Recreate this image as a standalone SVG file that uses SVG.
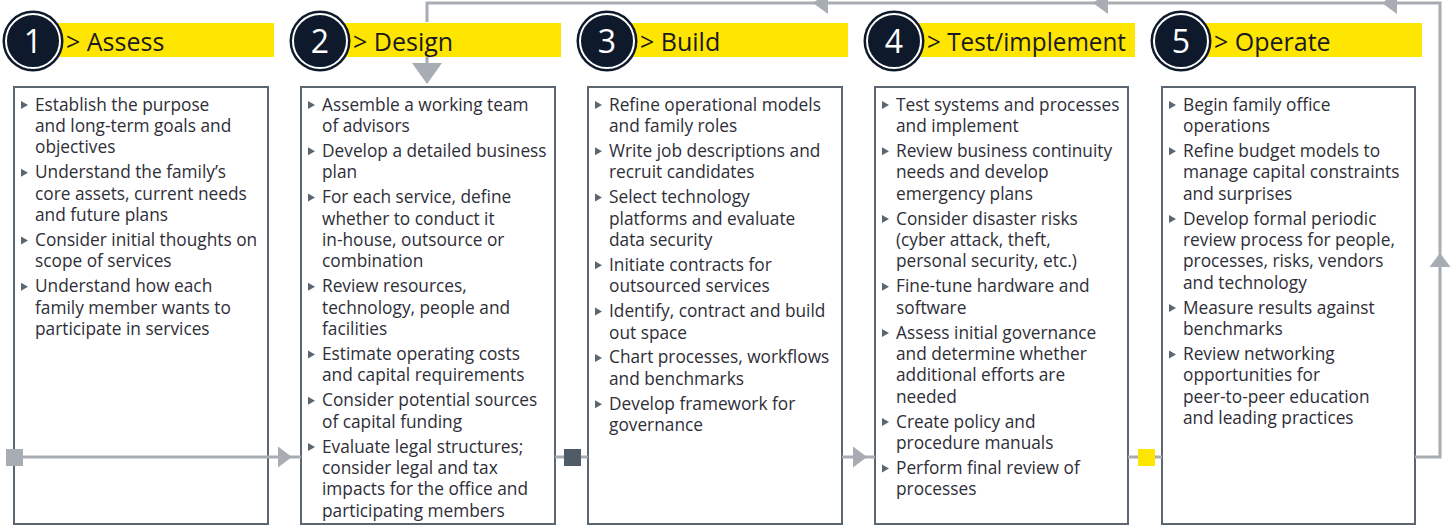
<svg xmlns="http://www.w3.org/2000/svg" xmlns:xlink="http://www.w3.org/1999/xlink" width="1452" height="529" viewBox="0 0 1452 529">
<style>
.box{fill:#fff;stroke:#5b6670;stroke-width:2}
.bar{fill:#ffe600}
.cO{fill:#0e1a2b}
.cR{fill:none;stroke:#fff;stroke-width:2}
.num{font-family:"Open Sans","Liberation Sans",sans-serif;font-size:32px;fill:#fff;text-anchor:middle}
.hd{font-family:"Open Sans","Liberation Sans",sans-serif;font-size:25px;fill:#1a1a24}
.tx{font-family:"Open Sans","Liberation Sans",sans-serif;font-size:17.3px;fill:#2e2e38}
.bl{fill:#5b6670}
.ln{fill:none;stroke:#a7adb2;stroke-width:3}
.ah{fill:#a7adb2}
</style>
<defs>
<path id="b" d="M0,-4 L7,0 L0,4Z"/>
</defs>
<rect width="1452" height="529" fill="#fff"/>

<g id="node1">
<rect class="box" x="14" y="87" width="254" height="437"/>
<rect class="bar" x="48" y="23" width="226" height="34"/>
<circle class="cO" cx="33" cy="41" r="30.5"/>
<circle class="cR" cx="33" cy="41" r="27"/>
<text class="num" x="33" y="52.5">1</text>
<text class="hd" x="66" y="51">&gt; Assess</text>
<g class="bl">
<use href="#b" x="21" y="105"/><use href="#b" x="21" y="172.7"/><use href="#b" x="21" y="240.4"/><use href="#b" x="21" y="286.7"/>
</g>
<text class="tx">
<tspan x="35" y="110.5">Establish the purpose</tspan>
<tspan x="35" y="131.9">and long-term goals and</tspan>
<tspan x="35" y="153.3">objectives</tspan>
<tspan x="35" y="178.2">Understand the family’s</tspan>
<tspan x="35" y="199.6">core assets, current needs</tspan>
<tspan x="35" y="221">and future plans</tspan>
<tspan x="35" y="245.9">Consider initial thoughts on</tspan>
<tspan x="35" y="267.3">scope of services</tspan>
<tspan x="35" y="292.2">Understand how each</tspan>
<tspan x="35" y="313.6">family member wants to</tspan>
<tspan x="35" y="335">participate in services</tspan>
</text>
</g>

<g id="node2">
<rect class="box" x="301" y="87" width="254" height="437"/>
<rect class="bar" x="335" y="23" width="226" height="34"/>
<circle class="cO" cx="320" cy="41" r="30.5"/>
<circle class="cR" cx="320" cy="41" r="27"/>
<text class="num" x="320" y="52.5">2</text>
<text class="hd" x="353" y="51">&gt; Design</text>
<g class="bl">
<use href="#b" x="308" y="105"/><use href="#b" x="308" y="151.3"/><use href="#b" x="308" y="197.6"/><use href="#b" x="308" y="286.7"/><use href="#b" x="308" y="354.4"/><use href="#b" x="308" y="400.7"/><use href="#b" x="308" y="447"/>
</g>
<text class="tx">
<tspan x="322" y="110.5">Assemble a working team</tspan>
<tspan x="322" y="131.9">of advisors</tspan>
<tspan x="322" y="156.8">Develop a detailed business</tspan>
<tspan x="322" y="178.2">plan</tspan>
<tspan x="322" y="203.1">For each service, define</tspan>
<tspan x="322" y="224.5">whether to conduct it</tspan>
<tspan x="322" y="245.9">in-house, outsource or</tspan>
<tspan x="322" y="267.3">combination</tspan>
<tspan x="322" y="292.2">Review resources,</tspan>
<tspan x="322" y="313.6">technology, people and</tspan>
<tspan x="322" y="335">facilities</tspan>
<tspan x="322" y="359.9">Estimate operating costs</tspan>
<tspan x="322" y="381.3">and capital requirements</tspan>
<tspan x="322" y="406.2">Consider potential sources</tspan>
<tspan x="322" y="427.6">of capital funding</tspan>
<tspan x="322" y="452.5">Evaluate legal structures;</tspan>
<tspan x="322" y="473.9">consider legal and tax</tspan>
<tspan x="322" y="495.3">impacts for the office and</tspan>
<tspan x="322" y="516.7">participating members</tspan>
</text>
</g>

<g id="node3">
<rect class="box" x="588" y="87" width="254" height="437"/>
<rect class="bar" x="622" y="23" width="226" height="34"/>
<circle class="cO" cx="607" cy="41" r="30.5"/>
<circle class="cR" cx="607" cy="41" r="27"/>
<text class="num" x="607" y="52.5">3</text>
<text class="hd" x="640" y="51">&gt; Build</text>
<g class="bl">
<use href="#b" x="595" y="105"/><use href="#b" x="595" y="151.3"/><use href="#b" x="595" y="197.6"/><use href="#b" x="595" y="265.3"/><use href="#b" x="595" y="311.6"/><use href="#b" x="595" y="357.9"/><use href="#b" x="595" y="404.2"/>
</g>
<text class="tx">
<tspan x="609" y="110.5">Refine operational models</tspan>
<tspan x="609" y="131.9">and family roles</tspan>
<tspan x="609" y="156.8">Write job descriptions and</tspan>
<tspan x="609" y="178.2">recruit candidates</tspan>
<tspan x="609" y="203.1">Select technology</tspan>
<tspan x="609" y="224.5">platforms and evaluate</tspan>
<tspan x="609" y="245.9">data security</tspan>
<tspan x="609" y="270.8">Initiate contracts for</tspan>
<tspan x="609" y="292.2">outsourced services</tspan>
<tspan x="609" y="317.1">Identify, contract and build</tspan>
<tspan x="609" y="338.5">out space</tspan>
<tspan x="609" y="363.4">Chart processes, workflows</tspan>
<tspan x="609" y="384.8">and benchmarks</tspan>
<tspan x="609" y="409.7">Develop framework for</tspan>
<tspan x="609" y="431.1">governance</tspan>
</text>
</g>

<g id="node4">
<rect class="box" x="875" y="87" width="253" height="437"/>
<rect class="bar" x="909" y="23" width="226" height="34"/>
<circle class="cO" cx="894" cy="41" r="30.5"/>
<circle class="cR" cx="894" cy="41" r="27"/>
<text class="num" x="894" y="52.5">4</text>
<text class="hd" x="927" y="51" textLength="199" lengthAdjust="spacingAndGlyphs">&gt; Test/implement</text>
<g class="bl">
<use href="#b" x="882" y="105"/><use href="#b" x="882" y="151.3"/><use href="#b" x="882" y="219"/><use href="#b" x="882" y="286.7"/><use href="#b" x="882" y="333"/><use href="#b" x="882" y="422.1"/><use href="#b" x="882" y="468.4"/>
</g>
<text class="tx">
<tspan x="896" y="110.5">Test systems and processes</tspan>
<tspan x="896" y="131.9">and implement</tspan>
<tspan x="896" y="156.8">Review business continuity</tspan>
<tspan x="896" y="178.2">needs and develop</tspan>
<tspan x="896" y="199.6">emergency plans</tspan>
<tspan x="896" y="224.5">Consider disaster risks</tspan>
<tspan x="896" y="245.9">(cyber attack, theft,</tspan>
<tspan x="896" y="267.3">personal security, etc.)</tspan>
<tspan x="896" y="292.2">Fine-tune hardware and</tspan>
<tspan x="896" y="313.6">software</tspan>
<tspan x="896" y="338.5">Assess initial governance</tspan>
<tspan x="896" y="359.9">and determine whether</tspan>
<tspan x="896" y="381.3">additional efforts are</tspan>
<tspan x="896" y="402.7">needed</tspan>
<tspan x="896" y="427.6">Create policy and</tspan>
<tspan x="896" y="449">procedure manuals</tspan>
<tspan x="896" y="473.9">Perform final review of</tspan>
<tspan x="896" y="495.3">processes</tspan>
</text>
</g>

<g id="node5">
<rect class="box" x="1162" y="87" width="253" height="437"/>
<rect class="bar" x="1196" y="23" width="226" height="34"/>
<circle class="cO" cx="1181" cy="41" r="30.5"/>
<circle class="cR" cx="1181" cy="41" r="27"/>
<text class="num" x="1181" y="52.5">5</text>
<text class="hd" x="1214" y="51">&gt; Operate</text>
<g class="bl">
<use href="#b" x="1169" y="105"/><use href="#b" x="1169" y="151.3"/><use href="#b" x="1169" y="219"/><use href="#b" x="1169" y="308.1"/><use href="#b" x="1169" y="354.4"/>
</g>
<text class="tx">
<tspan x="1183" y="110.5">Begin family office</tspan>
<tspan x="1183" y="131.9">operations</tspan>
<tspan x="1183" y="156.8">Refine budget models to</tspan>
<tspan x="1183" y="178.2">manage capital constraints</tspan>
<tspan x="1183" y="199.6">and surprises</tspan>
<tspan x="1183" y="224.5">Develop formal periodic</tspan>
<tspan x="1183" y="245.9">review process for people,</tspan>
<tspan x="1183" y="267.3">processes, risks, vendors</tspan>
<tspan x="1183" y="288.7">and technology</tspan>
<tspan x="1183" y="313.6">Measure results against</tspan>
<tspan x="1183" y="335">benchmarks</tspan>
<tspan x="1183" y="359.9">Review networking</tspan>
<tspan x="1183" y="381.3">opportunities for</tspan>
<tspan x="1183" y="402.7">peer-to-peer education</tspan>
<tspan x="1183" y="424.1">and leading practices</tspan>
</text>
</g>

<g id="connectors">
<polyline class="ln" points="23,457 301,457"/>
<polyline class="ln" points="555,457 588,457"/>
<polyline class="ln" points="842,457 875,457"/>
<polyline class="ln" points="1128,457 1162,457"/>
<polyline class="ln" points="1415,457 1440,457 1440,3 427,3 427,22"/>
<polyline class="ln" points="427,57 427,70"/>
<path class="ah" d="M278,446.5 L292,457 L278,467.5Z"/>
<path class="ah" d="M853,446.5 L867,457 L853,467.5Z"/>
<path class="ah" d="M1429.5,267 L1440,253 L1450.5,267Z"/>
<path class="ah" d="M412,63 L442,63 L427,84Z"/>
<path class="ah" d="M828,-8 L813,3 L828,14Z"/>
<path class="ah" d="M1108,-8 L1093,3 L1108,14Z"/>
<path class="ah" d="M1397,-8 L1382,3 L1397,14Z"/>
<rect x="6" y="449" width="17" height="17" fill="#a7adb2"/>
<rect x="564" y="449" width="17" height="17" fill="#4f5b66"/>
<rect x="1138" y="449" width="17" height="17" fill="#ffe600"/>
</g>
</svg>
